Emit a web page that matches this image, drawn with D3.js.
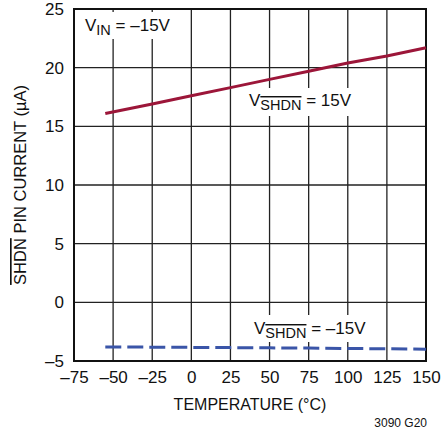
<!DOCTYPE html>
<html><head><meta charset="utf-8">
<script src="https://cdn.jsdelivr.net/npm/d3@7"></script>
<style>
body{margin:0;background:#fff;}
text{font-family:"Liberation Sans Narrow","Arial Narrow","Liberation Sans",sans-serif;fill:#111;}
</style></head><body>
<svg id="c" width="441" height="435"></svg>
<script>
const xTicks = [-75,-50,-25,0,25,50,75,100,125,150];
const yTicks = [-5,0,5,10,15,20,25];
const temps = [-55,-25,0,25,50,75,100,125,150];
const iShdnPos = [16.1,16.9,17.6,18.3,19.0,19.7,20.4,21.0,21.7];
const iShdnNeg = [-3.8,-3.82,-3.84,-3.86,-3.88,-3.9,-3.93,-3.96,-4.0];

const svg = d3.select("#c");
const L=74,R=426,T=9,B=361;
const x = d3.scaleLinear().domain([-75,150]).range([L,R]);
const y = d3.scaleLinear().domain([-5,25]).range([B,T]);

// grid
const g = svg.append("g");
g.selectAll(".vx").data(xTicks).enter().append("line")
  .attr("x1",d=>x(d)).attr("x2",d=>x(d)).attr("y1",T).attr("y2",B)
  .attr("stroke","#222").attr("stroke-width",1.3);
g.selectAll(".hy").data(yTicks).enter().append("line")
  .attr("y1",d=>y(d)).attr("y2",d=>y(d)).attr("x1",L).attr("x2",R)
  .attr("stroke","#222").attr("stroke-width",1.3);

// label backgrounds
svg.append("rect").attr("x",82).attr("y",12).attr("width",86).attr("height",27).attr("fill","#fff");
svg.append("rect").attr("x",246).attr("y",88).attr("width",106).attr("height",28).attr("fill","#fff");
svg.append("rect").attr("x",251).attr("y",315).attr("width",113).attr("height",27).attr("fill","#fff");

// frame
svg.append("rect").attr("x",L).attr("y",T).attr("width",R-L).attr("height",B-T)
  .attr("fill","none").attr("stroke","#111").attr("stroke-width",2);

// axes labels via d3 axes
const xAxis = d3.axisBottom(x).tickValues(xTicks).tickSize(0).tickPadding(10)
  .tickFormat(d=>d<0?"\u2013"+Math.abs(d):d);
const xg = svg.append("g").attr("transform",`translate(0,${B})`).call(xAxis);
xg.select(".domain").remove();
xg.selectAll("text").attr("font-size",17).attr("font-family",null).attr("fill","#111");

const yAxis = d3.axisLeft(y).tickValues(yTicks).tickSize(0).tickPadding(10)
  .tickFormat(d=>d<0?"\u2013"+Math.abs(d):d);
const yg = svg.append("g").attr("transform",`translate(${L},0)`).call(yAxis);
yg.select(".domain").remove();
yg.selectAll("text").attr("font-size",17).attr("font-family",null).attr("fill","#111");

// lines
const line = d3.line().x((d,i)=>x(temps[i])).y(d=>y(d));
svg.append("path").datum(iShdnPos).attr("d",line).attr("fill","none")
  .attr("stroke","#9c1639").attr("stroke-width",3);
svg.append("path").datum(iShdnNeg).attr("d",line).attr("fill","none")
  .attr("stroke","#3a55a8").attr("stroke-width",3).attr("stroke-dasharray","16,6");

// annotations
function vlabel(xp,yp,sub,rest,over){
  const t = svg.append("text").attr("x",xp).attr("y",yp).attr("font-size",17);
  t.append("tspan").text("V");
  t.append("tspan").attr("font-size",14.5).attr("dy",4).text(sub)
    .attr("text-decoration",over?"overline":null);
  t.append("tspan").attr("dy",-4).text(rest);
  return t;
}
vlabel(85,31,"IN"," = \u201315V",false);
vlabel(249,106,"SHDN"," = 15V",true);
vlabel(254,334,"SHDN"," = \u201315V",true);

svg.append("text").attr("x",(L+R)/2).attr("y",410).attr("text-anchor","middle")
  .attr("font-size",16).text("TEMPERATURE (\u00B0C)");

const yt = svg.append("text").attr("transform",`translate(26,${(T+B)/2}) rotate(-90)`)
  .attr("text-anchor","middle").attr("font-size",16.5);
yt.append("tspan").attr("text-decoration","overline").text("SHDN");
yt.append("tspan").text(" PIN CURRENT (\u00B5A)");

svg.append("text").attr("x",427).attr("y",427).attr("text-anchor","end")
  .attr("font-size",12).attr("fill","#222").text("3090 G20");
</script>
</body></html>
